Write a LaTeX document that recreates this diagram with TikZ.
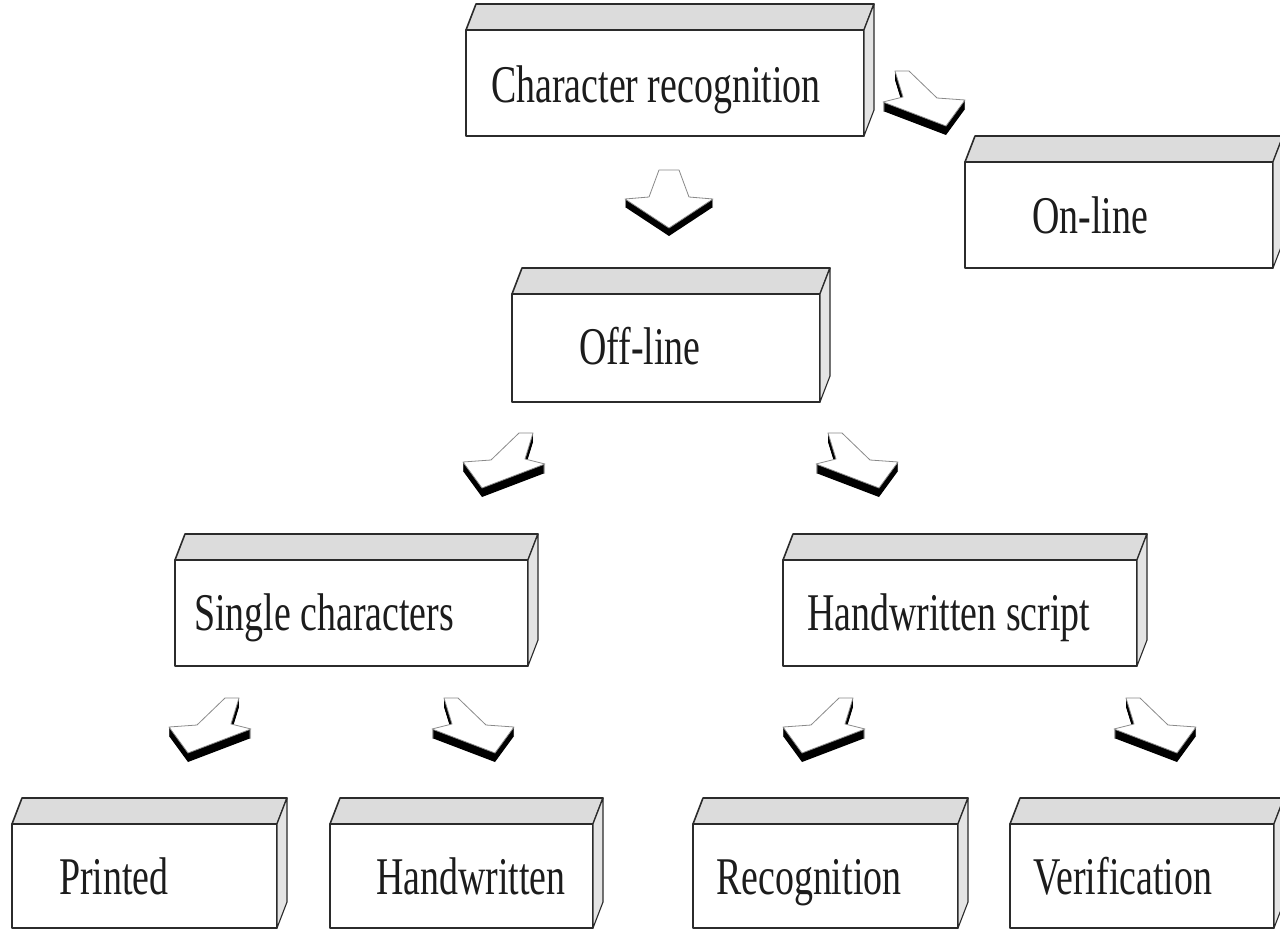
\documentclass[tikz,border=0pt]{standalone}
\usepackage{fontspec}
\setmainfont{Liberation Serif}
\usetikzlibrary{calc}

\definecolor{edge}{HTML}{2B2B2B}
\definecolor{topshade}{HTML}{DCDCDC}
\definecolor{sideshade}{HTML}{E4E4E4}
\definecolor{arrowedge}{HTML}{8A8A8A}
\definecolor{ink}{HTML}{1C1C1C}

% condensed serif lettering used on every block
\newcommand\boxlabel[1]{\scalebox{0.715}[1]{#1}}

\tikzset{
  panel/.style={draw=edge, line width=1.6pt, fill=white, inner sep=0pt, outer sep=0pt,
                anchor=north west, line join=round},
  topface/.style={draw=edge, line width=1.6pt, fill=topshade, line join=round},
  sideface/.style={draw=edge, line width=1.1pt, fill=sideshade, line join=round},
  caption/.style={anchor=base west, inner sep=0pt, text=ink, font=\fontsize{53}{60}\selectfont},
  arrowtop/.style={fill=white, draw=arrowedge, line width=0.8pt, line join=round},
  % flat block arrow seen in perspective, turned to one side; its thickness shows in black
  pics/slantarrow/.style={code={
    \foreach \k in {1,...,9}
      \fill[black, shift={(0,\k)}] (-7,0) -- (7,0) -- (35,27) -- (63,29) -- (44,55) -- (-19,31) -- (1,26) -- cycle;
    \filldraw[arrowtop] (-7,0) -- (7,0) -- (35,27) -- (63,29) -- (44,55) -- (-19,31) -- (1,26) -- cycle;
  }},
  % the same arrow pointing straight towards the viewer
  pics/downarrow/.style={code={
    \foreach \k in {1,...,8}
      \fill[black, shift={(0,\k)}] (-10,0) -- (10,0) -- (20,27) -- (44,29) -- (0,58) -- (-44,29) -- (-20,27) -- cycle;
    \filldraw[arrowtop] (-10,0) -- (10,0) -- (20,27) -- (44,29) -- (0,58) -- (-44,29) -- (-20,27) -- cycle;
  }}
}

\begin{document}
\begin{tikzpicture}[x=1pt, y=-1pt]
  \fill[white] (0,0) rectangle (1280,929);
  \clip (0,0) rectangle (1280,929);

  % front faces of the blocks
  \node[panel, minimum width=398pt, minimum height=106pt] (cr)      at (466,30)  {};
  \node[panel, minimum width=308pt, minimum height=106pt] (online)  at (965,162) {};
  \node[panel, minimum width=308pt, minimum height=108pt] (offline) at (512,294) {};
  \node[panel, minimum width=353pt, minimum height=106pt] (single)  at (175,560) {};
  \node[panel, minimum width=354pt, minimum height=106pt] (script)  at (783,560) {};
  \node[panel, minimum width=265pt, minimum height=104pt] (printed) at (12,824)  {};
  \node[panel, minimum width=263pt, minimum height=104pt] (handw)   at (330,824) {};
  \node[panel, minimum width=265pt, minimum height=104pt] (recog)   at (693,824) {};
  \node[panel, minimum width=264pt, minimum height=104pt] (verif)   at (1010,824) {};

  % top and right faces
  \foreach \n in {cr,online,offline,single,script,printed,handw,recog,verif}{
    \filldraw[topface] (\n.north west) -- ++(10,-26) -- ($(\n.north east)+(10,-26)$) -- (\n.north east) -- cycle;
    \filldraw[sideface] (\n.north east) -- ++(10,-26) -- ($(\n.south east)+(10,-26)$) -- (\n.south east) -- cycle;
  }

  % labels
  \node[caption] (tcr)      at (491,102)  {\boxlabel{Character recognition}};
  \node[caption] (tonline)  at (1032,233) {\boxlabel{On-line}};
  \node[caption] (toffline) at (579,364)  {\boxlabel{Off-line}};
  \node[caption] (tsingle)  at (194,630)  {\boxlabel{Single characters}};
  \node[caption] (tscript)  at (807,630)  {\boxlabel{Handwritten script}};
  \node[caption] (tprinted) at (59,894)   {\boxlabel{Printed}};
  \node[caption] (thandw)   at (376,894)  {\boxlabel{Handwritten}};
  \node[caption] (trecog)   at (716,894)  {\boxlabel{Recognition}};
  \node[caption] (tverif)   at (1033,894) {\boxlabel{Verification}};

  % block arrows between levels
  \coordinate (a-online)  at (902,71);
  \coordinate (a-offline) at (669,170);
  \coordinate (a-single)  at (526,433);
  \coordinate (a-script)  at (835,433);
  \coordinate (a-printed) at (232,698);
  \coordinate (a-handw)   at (451,698);
  \coordinate (a-recog)   at (846,698);
  \coordinate (a-verif)   at (1133,698);

  \pic at (a-offline) {downarrow};
  \pic at (a-online) {slantarrow};
  \pic at (a-script) {slantarrow};
  \pic at (a-handw)  {slantarrow};
  \pic at (a-verif)  {slantarrow};
  \pic[xscale=-1] at (a-single)  {slantarrow};
  \pic[xscale=-1] at (a-printed) {slantarrow};
  \pic[xscale=-1] at (a-recog)   {slantarrow};
\end{tikzpicture}
\end{document}
